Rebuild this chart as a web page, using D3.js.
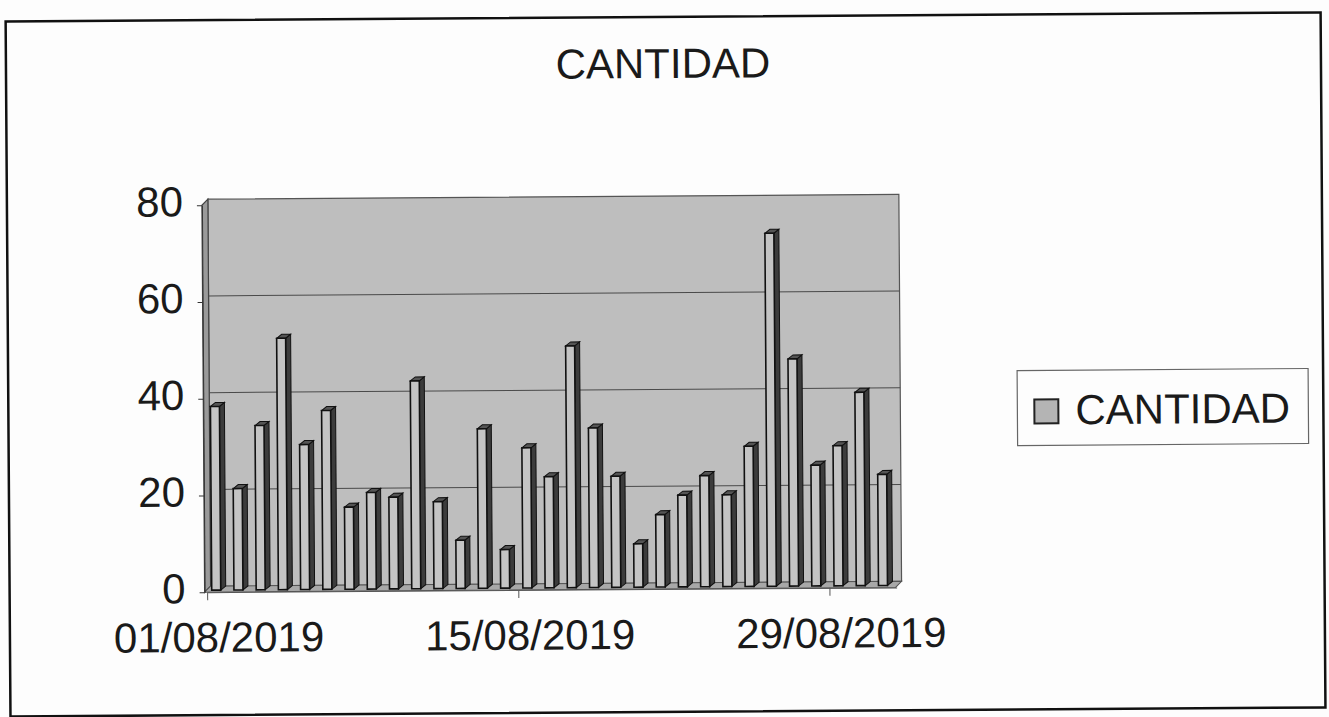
<!DOCTYPE html>
<html>
<head>
<meta charset="utf-8">
<script src="https://cdn.jsdelivr.net/npm/d3@7"></script>
<style>
  body { margin: 0; background: #fdfdfd; }
  text { font-family: "Liberation Sans", Arial, sans-serif; fill: #1a1a1a; }
</style>
</head>
<body>
<script>
// data
const dates = d3.range(1, 32).map(d => String(d).padStart(2, "0") + "/08/2019");
const cantidad = [39, 22, 35, 53, 31, 38, 18, 21, 20, 44, 19, 11, 34, 9, 30,
  24, 51, 34, 24, 10, 16, 20, 24, 20, 30, 74, 48, 26, 30, 41, 24];
const xTickLabels = ["01/08/2019", "15/08/2019", "29/08/2019"];
const yTicks = [0, 20, 40, 60, 80];
const seriesName = "CANTIDAD";

let width = 1329, height = 717;
let plotLeft = 206, plotRight = 895,
  floorY = 589, topY = 202,
  depthX = 6, depthY = -6;

let svg = d3.select("body").append("svg")
  .attr("width", width)
  .attr("height", height);

// the scan is tilted a little
let root = svg.append("g")
  .attr("transform", "rotate(-0.4," + width / 2 + "," + height / 2 + ")");

// outer frame
root.append("rect")
  .attr("x", 8).attr("y", 17)
  .attr("width", 1315).attr("height", 695)
  .attr("fill", "none")
  .attr("stroke", "#111")
  .attr("stroke-width", 2.5);

// title
root.append("text")
  .attr("x", 665).attr("y", 78)
  .attr("text-anchor", "middle")
  .style("font-size", "42px")
  .text(seriesName);

let xScale = d3.scaleBand()
  .domain(dates)
  .range([plotLeft, plotRight]);

let yScale = d3.scaleLinear()
  .domain([0, 80])
  .range([floorY, topY]);

// walls: back wall, left side wall, floor
root.append("rect")
  .attr("x", plotLeft - 3 + depthX)
  .attr("y", topY + depthY)
  .attr("width", plotRight - plotLeft + 2)
  .attr("height", floorY - topY)
  .attr("fill", "#bebebe")
  .attr("stroke", "#555")
  .attr("stroke-width", 1.2);

root.append("path")
  .attr("d", "M" + (plotLeft - 3) + "," + topY +
    "L" + (plotLeft - 3 + depthX) + "," + (topY + depthY) +
    "L" + (plotLeft - 3 + depthX) + "," + (floorY + depthY) +
    "L" + (plotLeft - 3) + "," + floorY + "Z")
  .attr("fill", "#9a9a9a")
  .attr("stroke", "#444")
  .attr("stroke-width", 1.2);

root.append("path")
  .attr("d", "M" + (plotLeft - 3) + "," + floorY +
    "L" + (plotLeft - 3 + depthX) + "," + (floorY + depthY) +
    "L" + (plotRight - 1 + depthX) + "," + (floorY + depthY) +
    "L" + (plotRight - 1) + "," + floorY + "Z")
  .attr("fill", "#a8a8a8")
  .attr("stroke", "#555")
  .attr("stroke-width", 1);

// gridlines on the back wall
root.append("g")
  .selectAll("line")
  .data(yTicks.filter(t => t > 0 && t < 80))
  .enter().append("line")
  .attr("x1", plotLeft - 3 + depthX)
  .attr("x2", plotRight - 1 + depthX)
  .attr("y1", d => yScale(d) + depthY)
  .attr("y2", d => yScale(d) + depthY)
  .attr("stroke", "#4a4a4a")
  .attr("stroke-width", 1);

// y axis on the front left edge
let yAxis = d3.axisLeft(yScale)
  .tickValues(yTicks)
  .tickSize(5)
  .tickPadding(14)
  .tickSizeOuter(0);

let yG = root.append("g")
  .attr("transform", "translate(" + (plotLeft - 3) + ",0)")
  .call(yAxis);
yG.select(".domain").attr("stroke", "#333");
yG.selectAll(".tick line").attr("stroke", "#333");
yG.selectAll(".tick text")
  .style("font-size", "42px")
  .attr("dy", "0.25em")
  .attr("fill", "#1a1a1a")
  .attr("font-family", "Liberation Sans, Arial, sans-serif");

// x axis: ticks at the left edge of the labelled days
let xAxis = d3.axisBottom(xScale)
  .tickValues(xTickLabels)
  .tickSize(0)
  .tickPadding(30)
  .tickSizeOuter(0);

let xG = root.append("g")
  .attr("transform", "translate(0," + floorY + ")")
  .call(xAxis);
xG.select(".domain").attr("stroke", "#555");
xG.selectAll(".tick text")
  .style("font-size", "42px")
  .attr("fill", "#1a1a1a")
  .attr("font-family", "Liberation Sans, Arial, sans-serif");

root.append("g")
  .selectAll("line")
  .data(xTickLabels)
  .enter().append("line")
  .attr("x1", d => xScale(d))
  .attr("x2", d => xScale(d))
  .attr("y1", floorY)
  .attr("y2", floorY + 8)
  .attr("stroke", "#555");

// 3d columns
let faceW = 9, sideX = 5, sideY = -4;
let bars = root.append("g")
  .selectAll("g")
  .data(cantidad.map((v, i) => ({ date: dates[i], value: v })))
  .enter().append("g");

function barX(d) { return xScale(d.date) + (xScale.bandwidth() - faceW - sideX) / 2; }
function barTop(d) { return yScale(d.value) + 3; }

bars.append("path") // side
  .attr("d", d => {
    let x = barX(d) + faceW, y = barTop(d);
    return "M" + x + "," + y + "L" + (x + sideX) + "," + (y + sideY) +
      "L" + (x + sideX) + "," + (floorY - 2 + sideY) + "L" + x + "," + (floorY - 2) + "Z";
  })
  .attr("fill", "#3c3c3c")
  .attr("stroke", "#111")
  .attr("stroke-width", 1);

bars.append("path") // top
  .attr("d", d => {
    let x = barX(d), y = barTop(d);
    return "M" + x + "," + y + "L" + (x + sideX) + "," + (y + sideY) +
      "L" + (x + faceW + sideX) + "," + (y + sideY) + "L" + (x + faceW) + "," + y + "Z";
  })
  .attr("fill", "#555")
  .attr("stroke", "#111")
  .attr("stroke-width", 1);

bars.append("rect") // front
  .attr("x", d => barX(d))
  .attr("y", d => barTop(d))
  .attr("width", faceW)
  .attr("height", d => floorY - 2 - barTop(d))
  .attr("fill", "#c4c4c4")
  .attr("stroke", "#111")
  .attr("stroke-width", 1.6);

// legend
let legend = root.append("g")
  .attr("transform", "translate(1017,373)");

legend.append("rect")
  .attr("width", 291).attr("height", 75)
  .attr("fill", "#fdfdfd")
  .attr("stroke", "#666")
  .attr("stroke-width", 1.2);

legend.append("rect")
  .attr("x", 17).attr("y", 29)
  .attr("width", 24).attr("height", 24)
  .attr("fill", "#b4b4b4")
  .attr("stroke", "#222")
  .attr("stroke-width", 2);

legend.append("text")
  .attr("x", 58).attr("y", 54)
  .style("font-size", "42px")
  .text(seriesName);
</script>
</body>
</html>
